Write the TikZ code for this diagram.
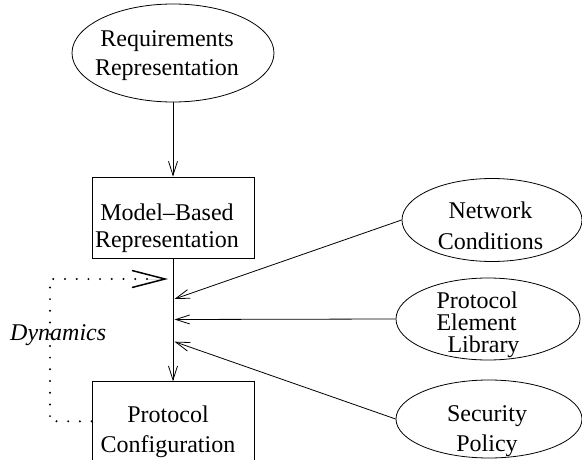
\documentclass[tikz,border=0pt]{standalone}
\usepackage{fontspec}
\setmainfont{Liberation Serif}
\usetikzlibrary{shapes.geometric,arrows.meta,calc}

\begin{document}
\begin{tikzpicture}[x=1pt,y=-1pt,
  txt/.style={font=\fontsize{24}{29}\selectfont, align=center, inner sep=0pt},
  oval/.style={draw, ellipse, inner sep=0pt, line width=0.8pt},
  box/.style={draw, rectangle, inner sep=0pt, line width=0.8pt},
  arr/.style={-{Straight Barb[length=14pt,width=9pt]}, line width=0.8pt},
  dotline/.style={line width=2.2pt, dash pattern=on 0pt off 11.7pt, line cap=round},
  bigtip/.style={-{Straight Barb[length=33pt,width=17pt,line width=1.5pt]}}
]
\useasboundingbox (0,0) rectangle (582,460);
\clip (0,0) rectangle (582,460);

% shapes
\node[oval, minimum width=202pt, minimum height=98pt] (req) at (173,53) {};
\node[box, minimum width=162pt, minimum height=81pt] (mb) at (173,217.5) {};
\node[box, minimum width=162pt, minimum height=118pt] (pc) at (173,440.7) {};
\node[oval, minimum width=180pt, minimum height=83pt] (nc) at (492,220) {};
\node[oval, minimum width=184pt, minimum height=82pt] (pel) at (488,319) {};
\node[oval, minimum width=186pt, minimum height=78pt] (sp) at (489,419) {};

% texts
\node[txt] (reqtext) at (167,55.7) {Requirements\\Representation};
\node[txt, font=\fontsize{24}{27}\selectfont] (mbtext) at (167,228) {Model--Based\\Representation};
\node[txt, font=\fontsize{24}{30}\selectfont] (pctext) at (168,431.5) {Protocol\\Configuration};
\node[txt, font=\fontsize{24}{31.5}\selectfont] (nctext) at (490.5,226) {Network\\Conditions};
\node[txt, align=left, font=\fontsize{24}{22}\selectfont] (peltext) at (478,324.5) {Protocol\\Element\\\hspace*{11pt}Library};
\node[txt, font=\fontsize{24}{30}\selectfont] (sptext) at (487,431.5) {Security\\Policy};
\node[txt, anchor=base west, font=\fontsize{24}{29}\selectfont\itshape] (dyn) at (10,340) {Dynamics};

% trunk and junctions
\coordinate (jn) at (174.5,299);
\coordinate (jp) at (174.5,319.5);
\coordinate (js) at (174.5,341.7);
\draw[arr] (req.south) -- (mb.north);
\draw[arr] (mb.south) -- (pc.north);
\draw[arr] (nc.west) -- (jn);
\draw[arr] (pel.west) -- (jp);
\draw[arr] (sp.west) -- (js);

% feedback loop
\coordinate (pcl) at ($(pc.north west)+(0,40)$);
\coordinate (fbcorner) at (50,279);
\coordinate (fb) at (168,279);
\draw[dotline] (pcl) -| (fbcorner) -- ($(fb)+(-14,0)$);
\draw[bigtip, line width=0.01pt] ($(fb)+(-20,0)$) -- (fb);
\end{tikzpicture}
\end{document}
